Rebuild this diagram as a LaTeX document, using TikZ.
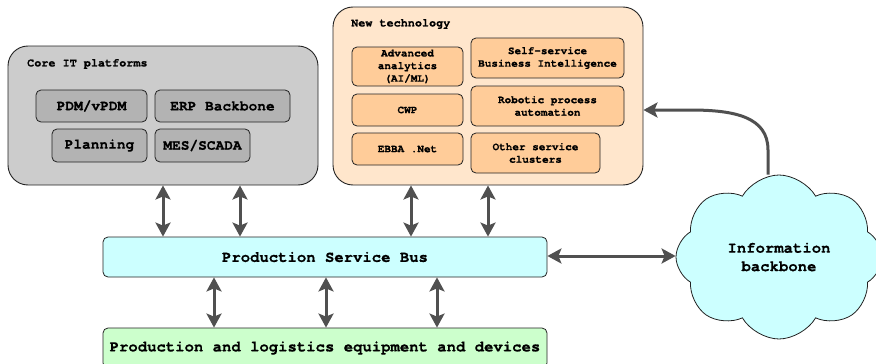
\documentclass[tikz,border=0pt]{standalone}
\usepackage{fontspec}
\setmonofont{TeX Gyre Cursor}[BoldFeatures={FakeBold=0.6}]
\usetikzlibrary{arrows.meta,shapes.symbols}
\definecolor{coreout}{HTML}{CCCCCC}
\definecolor{corein}{HTML}{B3B3B3}
\definecolor{techout}{HTML}{FFE6CC}
\definecolor{techin}{HTML}{FFCC99}
\definecolor{busfill}{HTML}{CCFFFF}
\definecolor{devfill}{HTML}{CCFFCC}
\definecolor{arrgray}{HTML}{505050}
\definecolor{edge}{HTML}{222222}
\tikzset{
  outerbox/.style={draw=edge, line width=0.9pt, rounded corners=20pt, inner sep=0pt},
  corebox/.style={draw=edge, line width=0.8pt, rounded corners=5pt, fill=corein, font=\ttfamily\bfseries\fontsize{14.5pt}{16pt}\selectfont, inner sep=0pt},
  techbox/.style={draw=edge, line width=0.8pt, rounded corners=5pt, fill=techin, align=center, font=\ttfamily\bfseries\fontsize{11pt}{12.6pt}\selectfont, inner sep=0pt},
  titletext/.style={anchor=west, font=\ttfamily\bfseries\fontsize{11.8pt}{13pt}\selectfont, inner sep=0pt},
  widebox/.style={draw=edge, line width=0.8pt, rounded corners=5pt, font=\ttfamily\bfseries\fontsize{15.6pt}{17pt}\selectfont, inner sep=0pt},
  arr/.style={draw=arrgray, line width=3pt, {Stealth[length=14pt,width=15pt,inset=3pt]}-{Stealth[length=14pt,width=15pt,inset=3pt]}},
  arrone/.style={draw=arrgray, line width=3pt, -{Stealth[length=14pt,width=15pt,inset=3pt]}},
}
\begin{document}
\begin{tikzpicture}[x=1pt,y=-1pt]
\useasboundingbox (0,0) rectangle (876,364);
% Core IT platforms
\node[outerbox, fill=coreout, minimum width=310pt, minimum height=139pt] (core) at (163,115.5) {};
\node[titletext] (coret) at (27,64) {Core IT platforms};
\node[corebox, minimum width=111pt, minimum height=32pt] (pdm) at (91.5,106) {PDM/vPDM};
\node[corebox, minimum width=135pt, minimum height=32pt] (erp) at (222.5,106) {ERP Backbone};
\node[corebox, minimum width=95pt, minimum height=33pt] (plan) at (99.5,145.5) {Planning};
\node[corebox, minimum width=95pt, minimum height=33pt] (mes) at (202.5,145.5) {MES/SCADA};
% New technology
\node[outerbox, fill=techout, minimum width=310pt, minimum height=178pt] (tech) at (488,96) {};
\node[titletext] (techt) at (351,24) {New technology};
\node[techbox, minimum width=111pt, minimum height=39pt] (aa) at (407.5,66.5) {Advanced\\analytics\\(AI/ML)};
\node[techbox, minimum width=153pt, minimum height=40pt] (bi) at (547.5,58) {Self-service\\Business Intelligence};
\node[techbox, minimum width=111pt, minimum height=32pt] (cwp) at (407.5,110) {CWP};
\node[techbox, minimum width=153pt, minimum height=40pt] (rpa) at (547.5,106) {Robotic process\\automation};
\node[techbox, minimum width=111pt, minimum height=32pt] (ebba) at (407.5,149) {EBBA .Net};
\node[techbox, minimum width=129pt, minimum height=40pt] (osc) at (535.5,153) {Other service\\clusters};
% Bus and devices
\node[widebox, fill=busfill, minimum width=444pt, minimum height=40pt] (bus) at (325,257) {Production Service Bus};
\node[widebox, fill=devfill, minimum width=444pt, minimum height=40pt] (dev) at (325,348) {Production and logistics equipment and devices};
% Cloud
\node[cloud, cloud puffs=8, cloud puff arc=120, aspect=1.3, draw=edge, line width=0.8pt, fill=busfill, minimum width=206pt, minimum height=164pt, align=center, inner sep=0pt, font=\ttfamily\bfseries\fontsize{15.6pt}{18.4pt}\selectfont] (cloud) at (779,257) {Information\\backbone};
% arrows
\coordinate (a1) at (163,0);
\coordinate (a2) at (240,0);
\coordinate (a3) at (411,0);
\coordinate (a4) at (488,0);
\coordinate (b1) at (214,0);
\coordinate (b2) at (326,0);
\coordinate (b3) at (437,0);
\coordinate (c1) at (768,0);
\coordinate (h1) at (0,256);
\coordinate (h2) at (0,110);
\draw[arr] (core.south -| a1) -- (bus.north -| a1);
\draw[arr] (core.south -| a2) -- (bus.north -| a2);
\draw[arr] (tech.south -| a3) -- (bus.north -| a3);
\draw[arr] (tech.south -| a4) -- (bus.north -| a4);
\draw[arr] (bus.south -| b1) -- (dev.north -| b1);
\draw[arr] (bus.south -| b2) -- (dev.north -| b2);
\draw[arr] (bus.south -| b3) -- (dev.north -| b3);
\draw[arr] (bus.east |- h1) -- (cloud.west |- h1);
\draw[arrone] (cloud.north -| c1) -- (768,150) .. controls (768,117) and (735,110) .. (690,110) -- (tech.east |- h2);
\end{tikzpicture}
\end{document}
